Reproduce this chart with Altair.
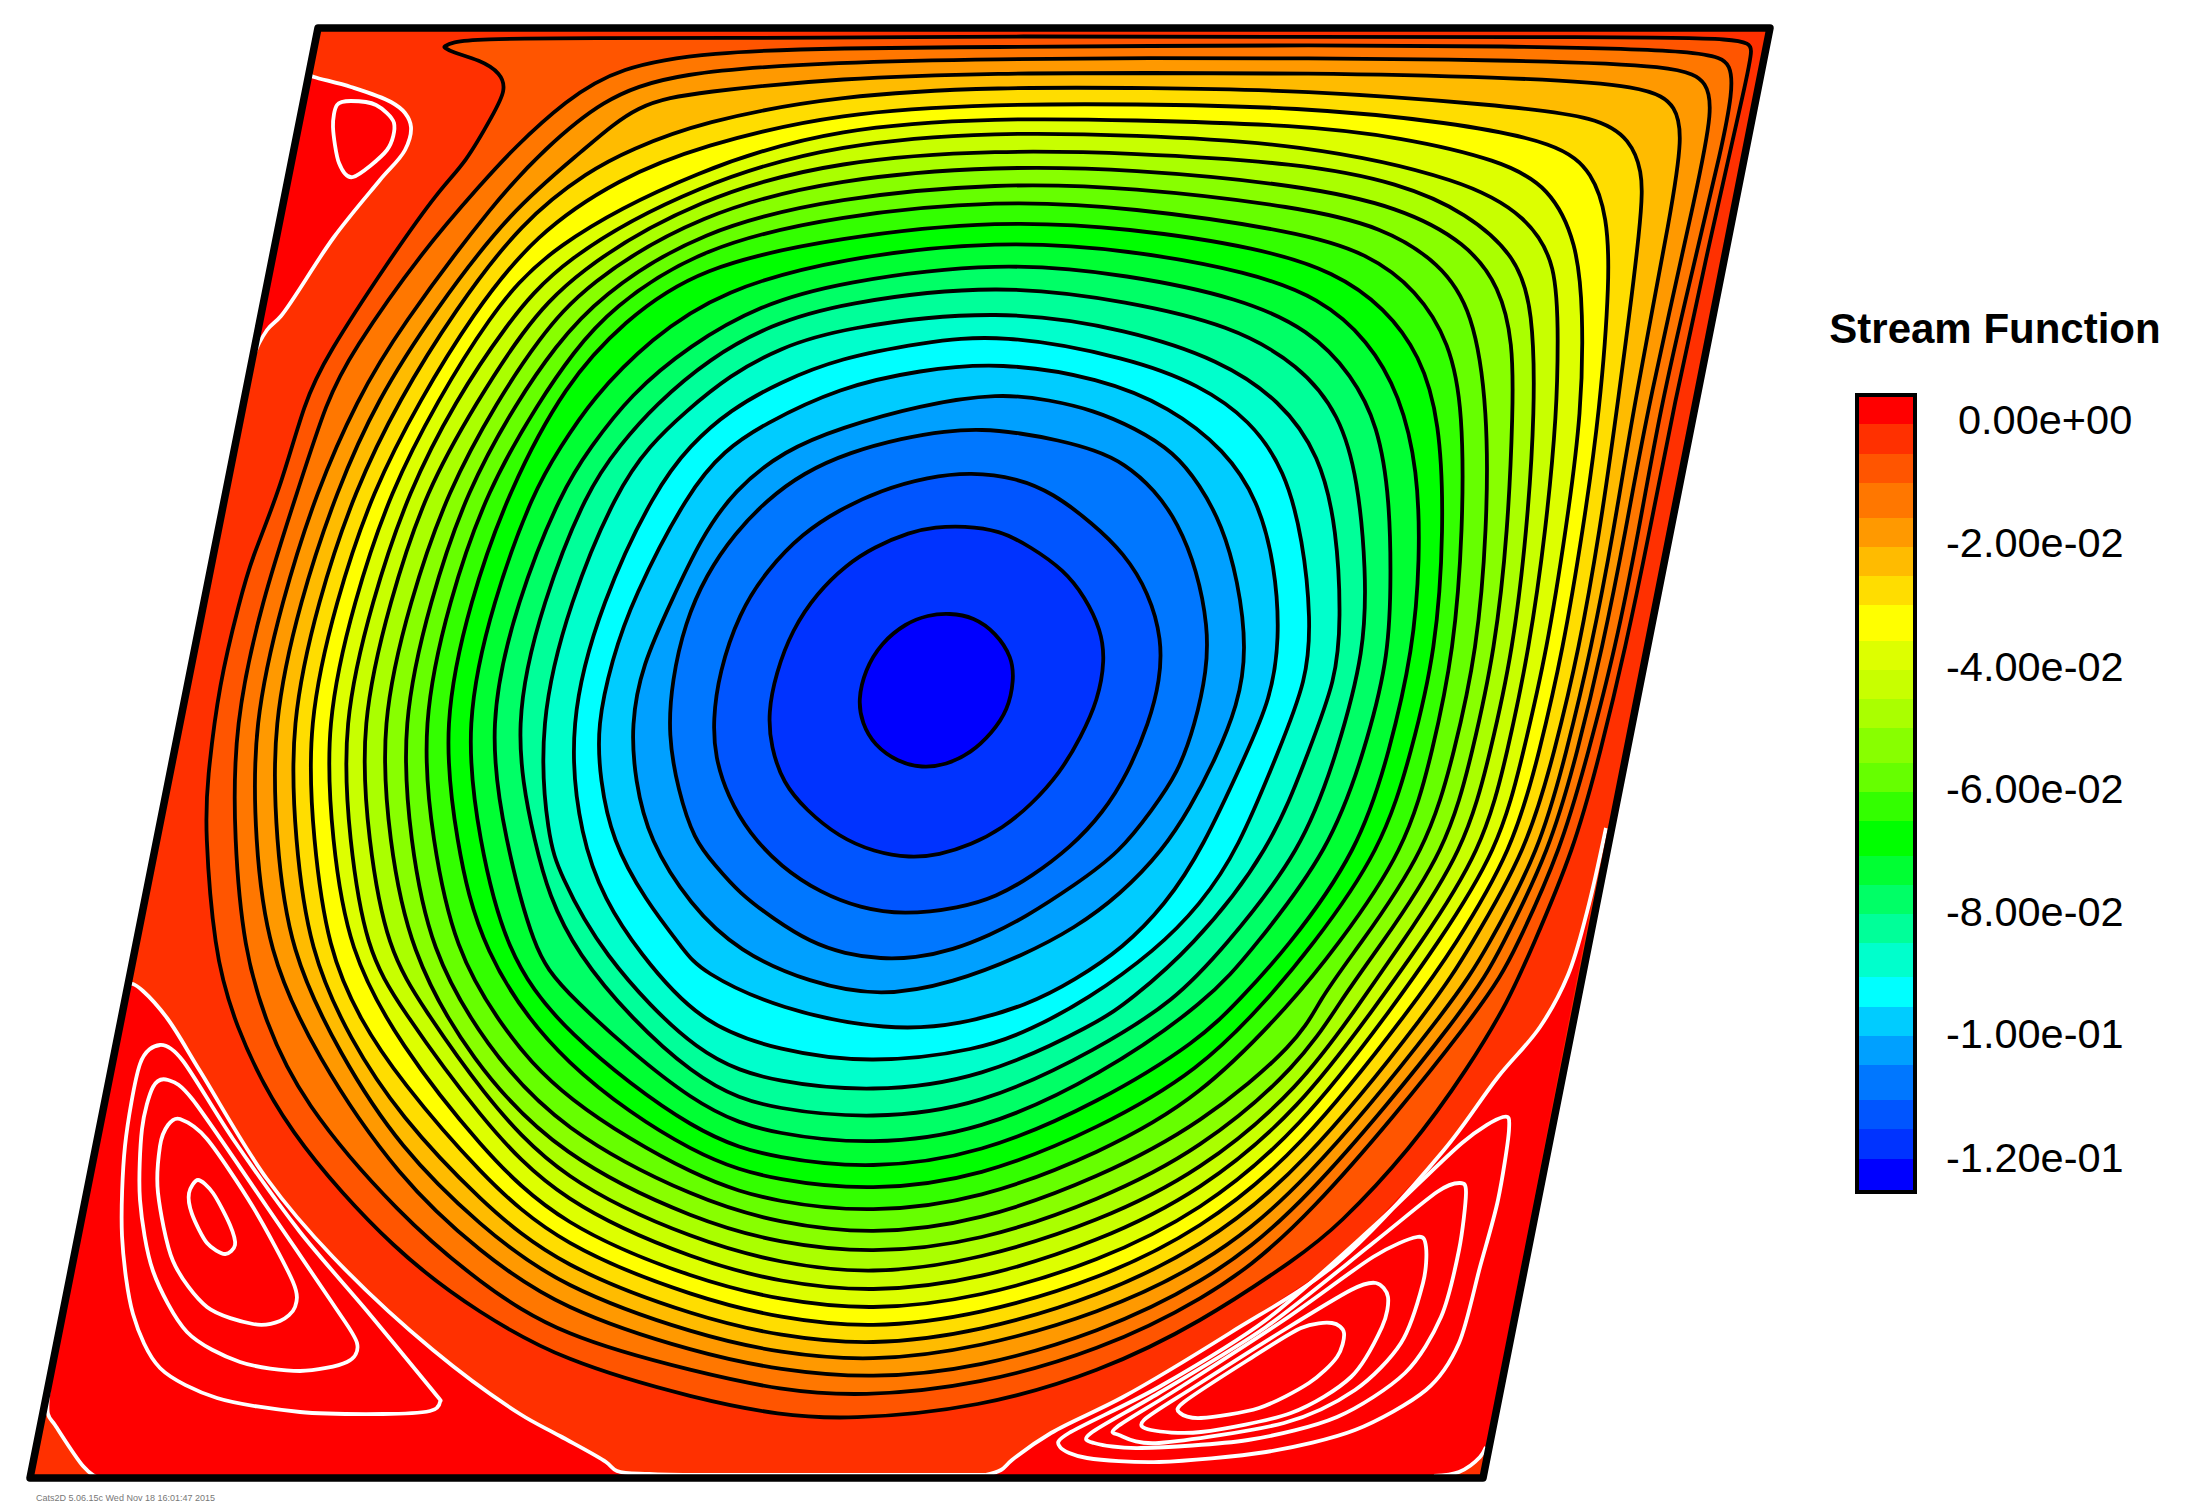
import altair as alt
import pandas as pd

TITLE = "Stream Function"
STAMP = "Cats2D 5.06.15c Wed Nov 18 16:01:47 2015"
BAND_COLORS = ["#ff0000","#ff3000","#ff5500","#ff7700","#ff9900","#ffbb00","#ffdd00","#ffff00",
               "#ddff00","#c8ff00","#aaff00","#88ff00","#66ff00","#33ff00","#00ff00","#00ff33",
               "#00ff66","#00ff99","#00ffcc","#00ffff","#00ccff","#00a0ff","#0077ff","#0055ff",
               "#0033ff","#0000ff"]
BAND_EDGES = [397,424,454,483,518,547,576,605,641,670,699,728,763,792,821,856,885,914,943,977,
              1007,1036,1065,1100,1129,1159,1190]
LABELS = ["0.00e+00","-2.00e-02","-4.00e-02","-6.00e-02","-8.00e-02","-1.00e-01","-1.20e-01"]
LABEL_Y = [422,545,669,791,914,1036,1160]

BORDER = [(318,28),(1770,28),(1483,1478),(30,1478)]

C01 = [(949,613),(974,617),(996,633),(1012,657),(1014,680),(1008,710),(992,733),(971,753),(946,765),(922,768),(898,762),(874,745),(862,723),(858,700),(865,670),(881,643),(906,623),(928,615)]
C02 = [(964,526),(999,530),(1031,547),(1064,570),(1085,597),(1101,630),(1105,660),(1098,700),(1081,737),(1060,773),(1031,805),(1003,828),(971,845),(939,855),(910,858),(874,852),(839,837),(806,810),(783,783),(771,747),(768,713),(776,673),(792,630),(817,593),(846,565),(874,547),(910,532),(935,527)]
C03 = [(971,472),(1017,478),(1053,493),(1092,523),(1124,553),(1149,593),(1162,640),(1160,680),(1149,723),(1128,773),(1103,813),(1071,847),(1031,877),(996,897),(960,908),(903,915),(860,908),(821,893),(781,867),(749,833),(728,797),(715,757),(713,720),(719,673),(739,613),(767,570),(803,533),(839,510),(881,490),(928,477)]
C04 = [(982,429),(1020,433),(1058,440),(1095,450),(1124,463),(1155,490),(1178,523),(1197,570),(1208,627),(1207,670),(1195,725),(1178,773),(1152,810),(1120,852),(1075,885),(1024,918),(990,935),(953,950),(915,958),(881,959),(845,954),(810,942),(775,920),(739,893),(715,865),(694,840),(678,790),(668,735),(672,680),(685,623),(706,575),(735,533),(767,500),(803,473),(850,452),(903,438),(945,431)]
C05 = [(1000,393),(1050,400),(1093,410),(1135,428),(1174,452),(1200,485),(1222,525),(1238,580),(1247,650),(1238,705),(1215,760),(1190,808),(1163,850),(1120,895),(1075,928),(1024,955),(953,983),(881,997),(810,983),(739,952),(690,905),(649,840),(635,780),(631,725),(642,665),(672,600),(700,540),(734,490),(785,450),(840,428),(920,405)]
C06 = [(1000,362),(1100,378),(1170,407),(1225,450),(1258,500),(1275,565),(1280,640),(1270,700),(1248,750),(1202,850),(1165,905),(1123,948),(1075,980),(1028,1005),(960,1025),(890,1031),(780,1010),(700,971),(684,950),(645,900),(612,840),(600,780),(597,725),(612,660),(632,600),(689,490),(725,450),(762,425),(840,387),(920,370)]
C07 = [(1000,333),(1130,358),(1200,385),(1250,420),(1285,470),(1303,540),(1311,620),(1307,680),(1279,750),(1238,850),(1200,905),(1156,950),(1087,1000),(1030,1030),(980,1050),(870,1064),(780,1051),(700,1024),(637,950),(605,900),(581,840),(567,725),(602,600),(655,490),(690,445),(730,410),(780,382),(840,358),(920,343)]
C08 = [(1000,308),(1130,330),(1220,360),(1280,400),(1320,455),(1337,530),(1341,620),(1336,680),(1309,750),(1271,850),(1190,950),(1130,1000),(1100,1022),(980,1080),(870,1092),(780,1083),(700,1060),(598,950),(560,873),(548,840),(538,725),(570,600),(617,490),(650,445),(685,412),(730,375),(780,348),(840,328)]
C09 = [(1000,283),(1130,302),(1230,325),(1300,365),(1340,415),(1358,480),(1366,570),(1365,650),(1338,750),(1303,850),(1222,950),(1175,1000),(1100,1048),(980,1107),(870,1119),(780,1110),(700,1089),(564,950),(533,840),(512,725),(543,600),(587,490),(620,445),(655,405),(710,358),(770,325),(840,303)]
C10 = [(1000,261),(1130,275),(1240,298),(1310,330),(1352,375),(1378,425),(1390,500),(1391,590),(1388,660),(1365,750),(1330,850),(1252,950),(1209,1000),(1100,1076),(980,1132),(870,1145),(780,1135),(700,1113),(560,989),(534,950),(505,840),(487,725),(517,600),(562,490),(590,448),(630,395),(690,345),(760,305),(840,282)]
C11 = [(1000,240),(1130,250),(1250,272),(1320,298),(1368,340),(1400,395),(1418,470),(1420,560),(1413,650),(1390,750),(1359,850),(1286,950),(1239,1000),(1200,1040),(1100,1102),(980,1155),(870,1169),(780,1159),(700,1138),(560,1030),(505,950),(479,840),(464,725),(493,600),(534,490),(560,448),(591,400),(651,338),(723,290),(840,258)]
C12 = [(1000,220),(1130,228),(1260,248),(1335,272),(1385,308),(1420,355),(1440,420),(1444,530),(1436,650),(1412,750),(1382,850),(1309,950),(1267,1000),(1200,1070),(1100,1128),(980,1178),(870,1191),(780,1181),(700,1160),(560,1066),(480,950),(456,840),(442,725),(470,600),(509,490),(566,383),(623,322),(698,267),(840,237)]
C13 = [(1000,200),(1130,207),(1300,232),(1367,253),(1417,290),(1450,343),(1463,410),(1463,530),(1454,650),(1433,750),(1406,850),(1334,950),(1294,1000),(1200,1098),(1100,1153),(980,1200),(870,1213),(780,1203),(700,1181),(560,1098),(500,1025),(455,950),(432,840),(421,725),(449,600),(487,490),(540,400),(573,353),(610,309),(700,247),(840,215)]
C14 = [(1000,183),(1130,187),(1300,207),(1383,227),(1440,263),(1473,310),(1488,410),(1487,530),(1477,650),(1455,750),(1427,850),(1356,950),(1319,1000),(1300,1041),(1200,1125),(1100,1177),(980,1222),(870,1235),(780,1223),(700,1201),(560,1130),(485,1045),(430,950),(410,840),(401,725),(430,600),(467,490),(518,400),(555,347),(598,297),(700,230),(840,197)]
C15 = [(1000,166),(1130,169),(1300,185),(1400,207),(1467,243),(1500,287),(1513,343),(1513,410),(1508,530),(1495,650),(1473,750),(1447,850),(1377,950),(1341,1000),(1300,1065),(1200,1150),(1100,1200),(980,1242),(870,1254),(780,1243),(700,1222),(560,1157),(470,1060),(409,950),(389,840),(380,725),(410,600),(448,490),(498,400),(538,340),(585,284),(700,213),(840,178)]
C16 = [(1000,150),(1130,153),(1300,163),(1400,183),(1467,213),(1517,257),(1533,310),(1535,410),(1527,530),(1513,650),(1491,750),(1465,850),(1397,950),(1362,1000),(1300,1088),(1200,1172),(1100,1221),(980,1260),(870,1275),(780,1263),(700,1242),(560,1181),(480,1090),(425,1010),(387,950),(368,840),(360,725),(390,600),(426,490),(478,400),(521,333),(573,272),(700,197),(840,160)]
C17 = [(1000,132),(1130,135),(1300,143),(1467,180),(1527,217),(1557,263),(1558,343),(1557,410),(1546,530),(1529,650),(1508,750),(1483,850),(1416,950),(1380,1000),(1300,1109),(1200,1192),(1100,1241),(980,1280),(870,1293),(780,1282),(700,1262),(560,1203),(480,1118),(400,1007),(366,950),(349,840),(342,725),(372,600),(409,490),(456,400),(504,328),(560,259),(700,183),(840,143)]
C18 = [(1000,118),(1130,120),(1300,125),(1400,137),(1500,160),(1550,187),(1577,243),(1583,310),(1582,410),(1566,530),(1547,650),(1524,750),(1499,850),(1433,950),(1398,1000),(1300,1130),(1200,1212),(1100,1261),(980,1298),(870,1311),(780,1300),(700,1281),(560,1226),(480,1147),(400,1045),(348,950),(332,840),(325,725),(354,600),(391,490),(438,400),(487,320),(547,246),(700,168),(840,127)]
C19 = [(1000,104),(1130,104),(1300,107),(1450,122),(1560,143),(1593,173),(1607,217),(1610,277),(1600,410),(1583,530),(1563,650),(1540,750),(1513,850),(1452,950),(1417,1000),(1300,1151),(1200,1230),(1100,1279),(980,1315),(870,1329),(780,1318),(700,1299),(560,1246),(480,1174),(400,1080),(360,1020),(328,950),(313,840),(307,725),(336,600),(373,490),(420,400),(472,315),(535,234),(620,178),(700,146),(840,112)]
C20 = [(1000,87),(1150,88),(1300,90),(1500,105),(1600,117),(1630,140),(1642,170),(1643,210),(1617,410),(1600,530),(1579,650),(1555,750),(1527,850),(1468,950),(1437,1000),(1300,1172),(1200,1248),(1100,1296),(980,1332),(870,1346),(780,1336),(700,1318),(560,1267),(480,1201),(400,1116),(350,1040),(309,950),(295,840),(290,725),(318,600),(355,490),(399,400),(455,310),(522,221),(590,170),(630,150),(700,122),(840,95)]
C21 = [(1000,73),(1150,73),(1300,73),(1500,77),(1650,85),(1677,107),(1682,137),(1673,203),(1633,410),(1614,530),(1591,650),(1567,750),(1540,850),(1486,950),(1455,1000),(1300,1192),(1200,1267),(1100,1313),(980,1348),(870,1362),(780,1353),(700,1336),(560,1287),(480,1226),(400,1148),(340,1055),(289,950),(276,840),(272,725),(300,600),(337,490),(377,400),(435,310),(511,210),(584,150),(637,103),(700,92),(840,78)]
C22 = [(1000,59),(1150,58),(1300,58),(1500,60),(1683,65),(1708,83),(1712,110),(1700,177),(1647,410),(1626,530),(1602,650),(1578,750),(1550,850),(1500,950),(1473,1000),(1300,1212),(1200,1285),(1100,1332),(980,1368),(870,1379),(780,1370),(700,1354),(560,1309),(480,1252),(400,1180),(315,1055),(267,950),(255,840),(253,725),(282,600),(317,490),(357,400),(398,330),(498,197),(544,150),(601,100),(673,72),(840,62)]
C23 = [(1000,47),(1150,46),(1300,45),(1500,46),(1713,50),(1732,65),(1732,93),(1723,143),(1690,280),(1660,410),(1639,530),(1615,650),(1589,750),(1561,850),(1515,950),(1489,1000),(1300,1232),(1200,1302),(1100,1350),(980,1385),(860,1397),(780,1390),(700,1373),(560,1336),(480,1283),(400,1216),(300,1100),(265,1020),(244,950),(234,840),(234,725),(262,600),(298,490),(327,400),(351,353),(423,250),(483,182),(512,150),(566,100),(619,67),(709,52),(840,48)]
C24 = [(1000,36),(1300,37),(1600,37),(1747,38),(1753,48),(1747,77),(1710,240),(1673,410),(1650,530),(1625,650),(1601,750),(1574,850),(1531,950),(1509,1000),(1469,1067),(1410,1150),(1337,1227),(1300,1256),(1200,1323),(1100,1372),(980,1408),(846,1420),(780,1415),(700,1400),(560,1360),(480,1313),(400,1257),(283,1129),(233,1021),(214,950),(205,827),(207,783),(219,683),(240,600),(251,560),(280,490),(305,400),(326,357),(387,263),(441,187),(465,164),(494,113),(506,90),(501,73),(480,60),(451,52),(444,47),(444,47),(451,42),(480,39),(566,38),(840,38)]
CONTOURS = [C24,C23,C22,C21,C20,C19,C18,C17,C16,C15,C14,C13,C12,C11,C10,C09,C08,C07,C06,C05,C04,C03,C02,C01]

TL_SEP = [(309,75),(314,77),(351,87),(391,102),(405,113),(411,127),(405,150),(380,180),(334,237),(281,316),(267,330),(253,358),(241,421),(237,435)]
TL_LOOP = [(351,101),(376,105),(394,123),(387,150),(353,177),(339,163),(333,127),(337,105)]

BL_SEP = [(128,984),(133,984),(143,991),(167,1018),(200,1071),(267,1179),(333,1257),(433,1350),(520,1414),(560,1436),(606,1462),(617,1471),(649,1474),(700,1475)]
BL_FLOOR = [(100,1478),(93,1475),(83,1466),(55,1425),(48,1414),(53,1361)]
BL_L1 = [(160,1045),(183,1061),(233,1139),(300,1232),(367,1311),(433,1391),(440,1402),(430,1411),(383,1414),(300,1412),(217,1398),(160,1368),(133,1314),(122,1236),(125,1146),(140,1064)]
BL_L2 = [(168,1080),(193,1100),(267,1207),(333,1304),(357,1343),(347,1362),(300,1371),(240,1362),(187,1332),(153,1271),(140,1200),(142,1129),(153,1087)]
BL_L3 = [(180,1119),(207,1139),(253,1207),(293,1282),(295,1307),(280,1321),(253,1324),(207,1307),(173,1261),(158,1193),(160,1146),(168,1125)]
BL_L4 = [(198,1180),(213,1193),(230,1225),(235,1245),(225,1254),(207,1243),(192,1214),(189,1193)]

BOTTOM_SEP = [(700,1475),(850,1475),(960,1475),(985,1475)]
BR_SEP = [(985,1475),(1001,1470),(1012,1460),(1051,1433),(1123,1397),(1230,1333),(1337,1263),(1444,1150),(1498,1077),(1540,1027),(1568,975),(1587,912),(1606,828)]
BR_CORNER = [(1486,1447),(1480,1457),(1459,1472),(1434,1476)]
BR_L1 = [(1503,1117),(1509,1130),(1498,1200),(1480,1267),(1459,1343),(1426,1390),(1355,1430),(1266,1452),(1159,1462),(1087,1458),(1060,1447),(1069,1433),(1159,1387),(1266,1320),(1373,1227),(1462,1143)]
BR_L2 = [(1460,1183),(1466,1193),(1459,1250),(1441,1317),(1405,1373),(1337,1417),(1248,1440),(1141,1448),(1094,1443),(1091,1433),(1159,1393),(1266,1327),(1373,1243),(1437,1192)]
BR_L3 = [(1417,1237),(1426,1247),(1423,1283),(1401,1343),(1355,1390),(1284,1423),(1159,1443),(1119,1435),(1117,1427),(1176,1390),(1284,1320),(1373,1257)]
BR_L4 = [(1376,1283),(1388,1297),(1382,1327),(1351,1377),(1291,1413),(1201,1432),(1151,1430),(1144,1420),(1194,1387),(1284,1330),(1351,1290)]
BR_L5 = [(1332,1323),(1344,1333),(1337,1357),(1309,1383),(1259,1408),(1201,1418),(1180,1413),(1184,1402),(1248,1360),(1301,1328)]

XS = alt.Scale(domain=[8, 2192], nice=False, zero=False)
YS = alt.Scale(domain=[1504, 8], nice=False, zero=False)
X = alt.X("x:Q", scale=XS, axis=None)
Y = alt.Y("y:Q", scale=YS, axis=None)
LINE = 3.8


def path(points, **mark):
    df = pd.DataFrame({"x": [p[0] for p in points], "y": [p[1] for p in points], "i": range(len(points))})
    return alt.Chart(df).mark_line(**mark).encode(x=X, y=Y, order="i:Q")


def filled(points, color):
    return path(points, interpolate="linear-closed", fill=color, stroke=color, strokeWidth=0.5)


def white_open(points):
    return path(points, interpolate="catmull-rom", stroke="white", strokeWidth=LINE)


def white_loop(points):
    return path(points, interpolate="cardinal-closed", tension=0.15, stroke="white", strokeWidth=LINE)


layers = [filled(BORDER, BAND_COLORS[1])]
layers.append(filled(TL_SEP, BAND_COLORS[0]))
layers.append(filled(BL_SEP + BL_FLOOR, BAND_COLORS[0]))
layers.append(filled(BR_SEP + BR_CORNER, BAND_COLORS[0]))
for k, contour in enumerate(CONTOURS):
    layers.append(path(contour, interpolate="basis-closed", fill=BAND_COLORS[k + 2],
                       stroke="black", strokeWidth=LINE))
layers += [white_open(TL_SEP), white_open(BL_SEP), white_open(BOTTOM_SEP), white_open(BR_SEP),
           white_open(BR_CORNER), white_open(BL_FLOOR)]
for loop in [TL_LOOP, BL_L1, BL_L2, BL_L3, BL_L4, BR_L1, BR_L2, BR_L3, BR_L4, BR_L5]:
    layers.append(white_loop(loop))
layers.append(path(BORDER, interpolate="linear-closed", stroke="black", strokeWidth=7.5, strokeJoin="round"))

bar = pd.DataFrame({"x": [1859] * 26, "x2": [1913] * 26, "y": BAND_EDGES[:-1], "y2": BAND_EDGES[1:], "c": BAND_COLORS})
frame = pd.DataFrame({"x": [1855], "x2": [1917], "y": [393], "y2": [1194]})
layers.append(alt.Chart(frame).mark_rect(color="black").encode(x=X, x2="x2:Q", y=Y, y2="y2:Q"))
layers.append(alt.Chart(bar).mark_rect().encode(x=X, x2="x2:Q", y=Y, y2="y2:Q",
                                                fill=alt.Fill("c:N", scale=None)))

labels = pd.DataFrame({"x": [1958] + [1946] * 6, "y": LABEL_Y, "t": LABELS})
layers.append(alt.Chart(labels).mark_text(align="left", baseline="middle", font="Liberation Sans",
                                          fontSize=41.5, color="black").encode(x=X, y=Y, text="t:N"))
layers.append(alt.Chart(pd.DataFrame({"x": [1995], "y": [330], "t": [TITLE]})).mark_text(
    align="center", baseline="middle", font="Liberation Sans", fontSize=42, fontWeight="bold",
    color="black").encode(x=X, y=Y, text="t:N"))
layers.append(alt.Chart(pd.DataFrame({"x": [36], "y": [1498], "t": [STAMP]})).mark_text(
    align="left", baseline="middle", font="Liberation Sans", fontSize=9, color="#777777").encode(x=X, y=Y, text="t:N"))

chart = alt.layer(*layers).properties(width=2184, height=1496, padding=0,
                                      autosize=alt.AutoSizeParams(type="none")).configure_view(stroke=None)
chart.save("out.html", embed_options={"renderer": "svg", "actions": False})
